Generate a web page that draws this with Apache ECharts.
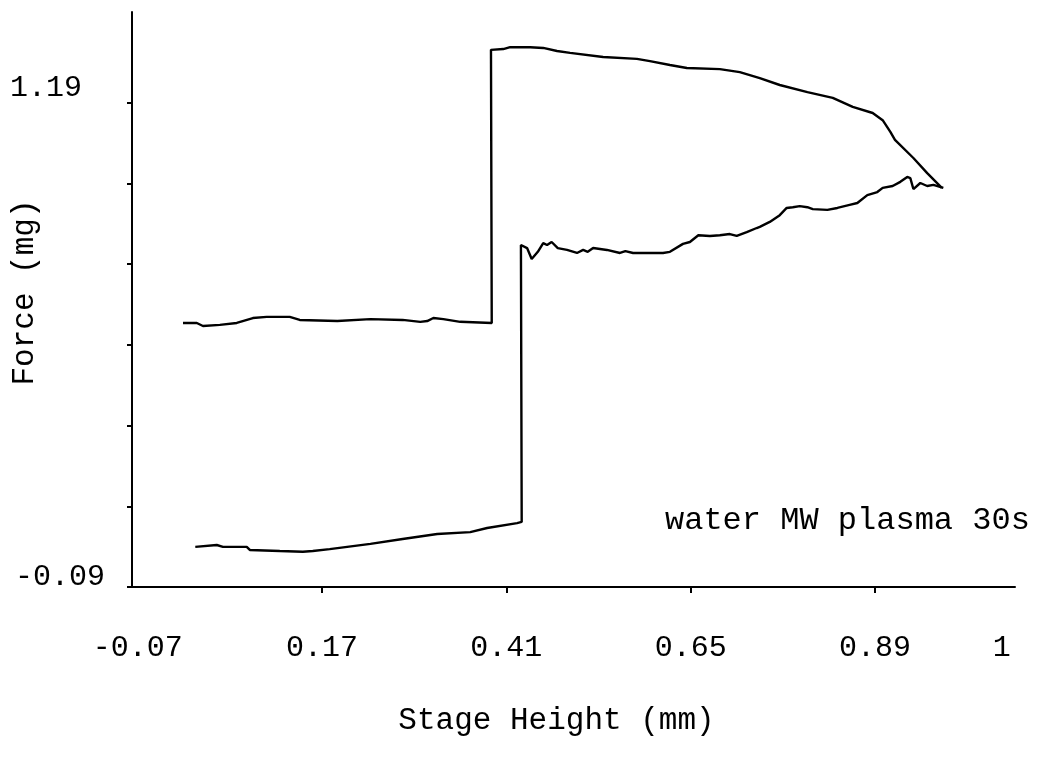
<!DOCTYPE html>
<html>
<head>
<meta charset="utf-8">
<script src="https://cdn.jsdelivr.net/npm/echarts@6/dist/echarts.min.js"></script>
<style>
  html, body { margin: 0; padding: 0; background: #fff; }
  #chart { width: 1041px; height: 757px; }
</style>
</head>
<body>
<div id="chart"></div>
<script>
// ---- Data ----
// Stage Height (mm), Force (mg)
const approachCurve = [
  [0.005,0.016],[0.033,0.021],[0.041,0.016],[0.072,0.016],[0.076,0.008],[0.115,0.005],
  [0.145,0.003],[0.158,0.005],[0.180,0.010],[0.233,0.024],[0.275,0.037],[0.320,0.050],
  [0.363,0.055],[0.385,0.066],[0.424,0.079],[0.430,0.082],
  [0.429,0.814],[0.437,0.806],[0.443,0.777],[0.451,0.796],[0.458,0.819],[0.463,0.814],
  [0.469,0.822],[0.477,0.806],[0.489,0.801],[0.502,0.793],[0.510,0.801],[0.516,0.796],
  [0.523,0.806],[0.541,0.801],[0.558,0.793],[0.565,0.798],[0.575,0.793],[0.606,0.793],
  [0.614,0.793],[0.623,0.796],[0.640,0.817],[0.649,0.822],[0.660,0.840],[0.675,0.838],
  [0.688,0.840],[0.701,0.843],[0.710,0.838],[0.723,0.848],[0.736,0.859],[0.740,0.862],
  [0.753,0.875],[0.766,0.893],[0.775,0.912],[0.783,0.914],[0.792,0.917],[0.802,0.914],
  [0.809,0.909],[0.828,0.907],[0.841,0.912],[0.857,0.920],[0.867,0.925],[0.880,0.946],
  [0.893,0.954],[0.900,0.965],[0.913,0.970],[0.923,0.981],[0.932,0.994],[0.936,0.991],
  [0.940,0.962],[0.949,0.978],[0.958,0.970],[0.966,0.973],[0.979,0.965]
];
const retractCurve = [
  [0.977,0.965],[0.958,1.004],[0.940,1.044],[0.916,1.092],[0.910,1.113],[0.900,1.144],
  [0.887,1.163],[0.861,1.179],[0.835,1.203],[0.802,1.218],[0.766,1.237],[0.740,1.255],
  [0.714,1.271],[0.688,1.279],[0.645,1.282],[0.623,1.290],[0.597,1.300],[0.580,1.306],
  [0.536,1.311],[0.493,1.322],[0.476,1.327],[0.458,1.335],[0.441,1.337],[0.415,1.337],
  [0.406,1.332],[0.390,1.330],
  [0.391,0.608],[0.389,0.608],[0.350,0.611],[0.328,0.618],[0.315,0.621],[0.307,0.613],
  [0.298,0.611],[0.275,0.616],[0.233,0.618],[0.190,0.613],[0.141,0.616],[0.128,0.624],
  [0.098,0.624],[0.080,0.621],[0.059,0.608],[0.037,0.603],[0.015,0.600],[0.007,0.608],
  [-0.011,0.608]
];

const xTickValues  = [0.17, 0.41, 0.65, 0.89];
const xLabelValues = [-0.07, 0.17, 0.41, 0.65, 0.89, 1.055];
const xLabelTexts  = ['-0.07', '0.17', '0.41', '0.65', '0.89', '1'];

const yTickValues  = [-0.09, 0.1233, 0.3367, 0.55, 0.7633, 0.9767, 1.19];
const yLabelValues = [-0.09, 1.19];
const yLabelTexts  = ['-0.09', '1.19'];

const annotationText = 'water MW plasma 30s';

// ---- Chart ----
const FONT = "'Liberation Mono', 'Courier New', monospace";
function lookup(vals, texts, v) {
  for (let i = 0; i < vals.length; i++) if (Math.abs(vals[i] - v) < 1e-6) return texts[i];
  return '';
}

const chart = echarts.init(document.getElementById('chart'), null, { renderer: 'canvas' });
chart.setOption({
  backgroundColor: '#ffffff',
  animation: false,
  title: {
    text: annotationText,
    left: 665, top: 505, padding: 0,
    textStyle: { fontFamily: FONT, fontSize: 32, fontWeight: 'normal', color: '#000' }
  },
  grid: { left: 132, right: 26, top: 12, bottom: 170, containLabel: false, outerBoundsMode: 'none' },
  xAxis: {
    type: 'value',
    min: -0.0774, max: 1.0723,
    name: 'Stage Height (mm)',
    nameLocation: 'middle',
    nameGap: 118,
    nameMoveOverlap: false,
    nameTextStyle: { fontFamily: FONT, fontSize: 31, color: '#000', padding: [0, 34, 0, 0] },
    axisLine: { show: true, onZero: false, lineStyle: { color: '#000', width: 2 } },
    axisTick: { show: true, customValues: xTickValues, length: 6, lineStyle: { color: '#000', width: 2 } },
    axisLabel: {
      customValues: xLabelValues,
      margin: 46,
      fontFamily: FONT, fontSize: 30, color: '#000',
      formatter: v => lookup(xLabelValues, xLabelTexts, v)
    },
    splitLine: { show: false }
  },
  yAxis: {
    type: 'value',
    min: -0.09, max: 1.43,
    name: 'Force (mg)',
    nameLocation: 'middle',
    nameGap: 92,
    nameRotate: 90,
    nameMoveOverlap: false,
    nameTextStyle: { fontFamily: FONT, fontSize: 31, color: '#000', padding: [0, 0, 0, 14] },
    axisLine: { show: true, onZero: false, lineStyle: { color: '#000', width: 2 } },
    axisTick: { show: true, customValues: yTickValues, length: 5, lineStyle: { color: '#000', width: 2 } },
    axisLabel: {
      customValues: yLabelValues,
      margin: 27,
      fontFamily: FONT, fontSize: 30, color: '#000',
      formatter: v => {
        const t = lookup(yLabelValues, yLabelTexts, v);
        return v > 0 ? '{t|' + t + '}' : '{b|' + t + '}';
      },
      rich: {
        t: { fontFamily: FONT, fontSize: 30, color: '#000', padding: [0, 23, 30, 0] },
        b: { fontFamily: FONT, fontSize: 30, color: '#000', padding: [0, 0, 20, 0] }
      }
    },
    splitLine: { show: false }
  },
  series: [
    {
      name: 'approach', type: 'line', data: approachCurve,
      symbol: 'none', smooth: false,
      lineStyle: { color: '#000', width: 2.4 }
    },
    {
      name: 'retract', type: 'line', data: retractCurve,
      symbol: 'none', smooth: false,
      lineStyle: { color: '#000', width: 2.4 }
    }
  ]
});
</script>
</body>
</html>
